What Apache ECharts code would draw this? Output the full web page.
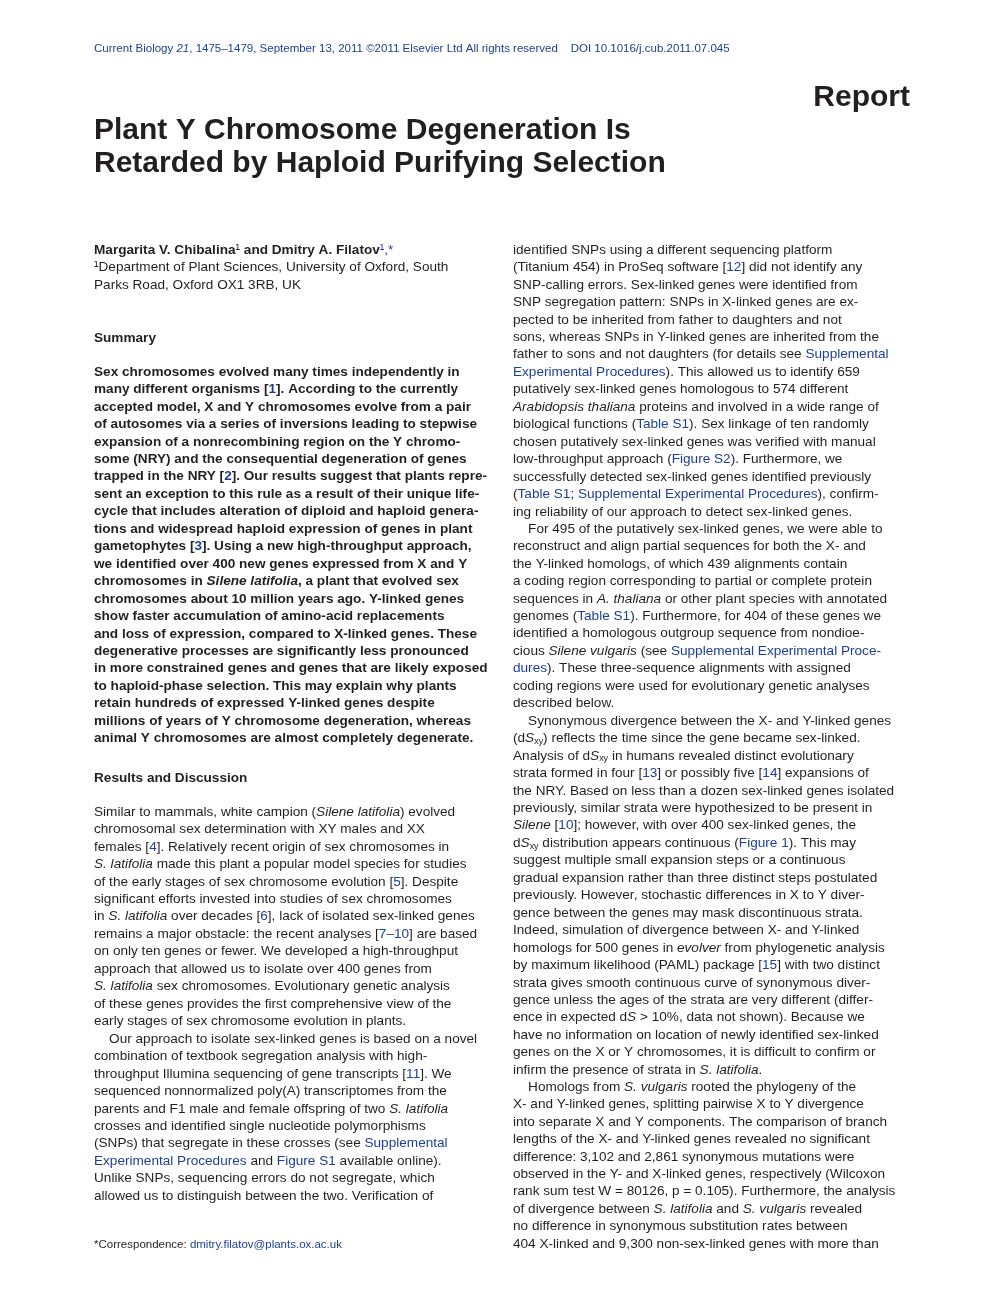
<!DOCTYPE html>
<html><head><meta charset="utf-8">
<script src="https://cdn.jsdelivr.net/npm/echarts@6/dist/echarts.min.js"></script>
<style>html,body{margin:0;padding:0;background:#fff}#c{width:1005px;height:1305px}</style>
</head><body><div id="c"></div>
<script>
const headerLine = '{l|Current Biology }{li|21}{l|, 1475–1479, September 13, 2011 ©2011 Elsevier Ltd All rights reserved    DOI 10.1016/j.cub.2011.07.045}';
const titleLines = ['Plant Y Chromosome Degeneration Is', 'Retarded by Haploid Purifying Selection'];
const authorLines = ['{b|Margarita V. Chibalina}¹ {b|and Dmitry A. Filatov}{l|¹,*}', '¹Department of Plant Sciences, University of Oxford, South', 'Parks Road, Oxford OX1 3RB, UK'];
const summaryLines = [
'Sex chromosomes evolved many times independently in',
'many different organisms [{l|1}]. According to the currently',
'accepted model, X and Y chromosomes evolve from a pair',
'of autosomes via a series of inversions leading to stepwise',
'expansion of a nonrecombining region on the Y chromo-',
'some (NRY) and the consequential degeneration of genes',
'trapped in the NRY [{l|2}]. Our results suggest that plants repre-',
'sent an exception to this rule as a result of their unique life-',
'cycle that includes alteration of diploid and haploid genera-',
'tions and widespread haploid expression of genes in plant',
'gametophytes [{l|3}]. Using a new high-throughput approach,',
'we identified over 400 new genes expressed from X and Y',
'chromosomes in {i|Silene latifolia}, a plant that evolved sex',
'chromosomes about 10 million years ago. Y-linked genes',
'show faster accumulation of amino-acid replacements',
'and loss of expression, compared to X-linked genes. These',
'degenerative processes are significantly less pronounced',
'in more constrained genes and genes that are likely exposed',
'to haploid-phase selection. This may explain why plants',
'retain hundreds of expressed Y-linked genes despite',
'millions of years of Y chromosome degeneration, whereas',
'animal Y chromosomes are almost completely degenerate.'];
const leftPara1 = [
'Similar to mammals, white campion ({i|Silene latifolia}) evolved',
'chromosomal sex determination with XY males and XX',
'females [{l|4}]. Relatively recent origin of sex chromosomes in',
'{i|S. latifolia} made this plant a popular model species for studies',
'of the early stages of sex chromosome evolution [{l|5}]. Despite',
'significant efforts invested into studies of sex chromosomes',
'in {i|S. latifolia} over decades [{l|6}], lack of isolated sex-linked genes',
'remains a major obstacle: the recent analyses [{l|7–10}] are based',
'on only ten genes or fewer. We developed a high-throughput',
'approach that allowed us to isolate over 400 genes from',
'{i|S. latifolia} sex chromosomes. Evolutionary genetic analysis',
'of these genes provides the first comprehensive view of the',
'early stages of sex chromosome evolution in plants.'];
const leftPara2 = [
'    Our approach to isolate sex-linked genes is based on a novel',
'combination of textbook segregation analysis with high-',
'throughput Illumina sequencing of gene transcripts [{l|11}]. We',
'sequenced nonnormalized poly(A) transcriptomes from the',
'parents and F1 male and female offspring of two {i|S. latifolia}',
'crosses and identified single nucleotide polymorphisms',
'(SNPs) that segregate in these crosses (see {l|Supplemental}',
'{l|Experimental Procedures} and {l|Figure S1} available online).',
'Unlike SNPs, sequencing errors do not segregate, which',
'allowed us to distinguish between the two. Verification of'];
const rightPara1 = [
'identified SNPs using a different sequencing platform',
'(Titanium 454) in ProSeq software [{l|12}] did not identify any',
'SNP-calling errors. Sex-linked genes were identified from',
'SNP segregation pattern: SNPs in X-linked genes are ex-',
'pected to be inherited from father to daughters and not',
'sons, whereas SNPs in Y-linked genes are inherited from the',
'father to sons and not daughters (for details see {l|Supplemental}',
'{l|Experimental Procedures}). This allowed us to identify 659',
'putatively sex-linked genes homologous to 574 different',
'{i|Arabidopsis thaliana} proteins and involved in a wide range of',
'biological functions ({l|Table S1}). Sex linkage of ten randomly',
'chosen putatively sex-linked genes was verified with manual',
'low-throughput approach ({l|Figure S2}). Furthermore, we',
'successfully detected sex-linked genes identified previously',
'({l|Table S1}; {l|Supplemental Experimental Procedures}), confirm-',
'ing reliability of our approach to detect sex-linked genes.'];
const rightPara2 = [
'    For 495 of the putatively sex-linked genes, we were able to',
'reconstruct and align partial sequences for both the X- and',
'the Y-linked homologs, of which 439 alignments contain',
'a coding region corresponding to partial or complete protein',
'sequences in {i|A. thaliana} or other plant species with annotated',
'genomes ({l|Table S1}). Furthermore, for 404 of these genes we',
'identified a homologous outgroup sequence from nondioe-',
'cious {i|Silene vulgaris} (see {l|Supplemental Experimental Proce-}',
'{l|dures}). These three-sequence alignments with assigned',
'coding regions were used for evolutionary genetic analyses',
'described below.'];
const rightPara3 = [
'    Synonymous divergence between the X- and Y-linked genes',
'(d{i|S}{sub|xy}) reflects the time since the gene became sex-linked.',
'Analysis of d{i|S}{sub|xy} in humans revealed distinct evolutionary',
'strata formed in four [{l|13}] or possibly five [{l|14}] expansions of',
'the NRY. Based on less than a dozen sex-linked genes isolated',
'previously, similar strata were hypothesized to be present in',
'{i|Silene} [{l|10}]; however, with over 400 sex-linked genes, the',
'd{i|S}{sub|xy} distribution appears continuous ({l|Figure 1}). This may',
'suggest multiple small expansion steps or a continuous',
'gradual expansion rather than three distinct steps postulated',
'previously. However, stochastic differences in X to Y diver-',
'gence between the genes may mask discontinuous strata.',
'Indeed, simulation of divergence between X- and Y-linked',
'homologs for 500 genes in {i|evolver} from phylogenetic analysis',
'by maximum likelihood (PAML) package [{l|15}] with two distinct',
'strata gives smooth continuous curve of synonymous diver-',
'gence unless the ages of the strata are very different (differ-',
'ence in expected d{i|S} > 10%, data not shown). Because we',
'have no information on location of newly identified sex-linked',
'genes on the X or Y chromosomes, it is difficult to confirm or',
'infirm the presence of strata in {i|S. latifolia}.'];
const rightPara4 = [
'    Homologs from {i|S. vulgaris} rooted the phylogeny of the',
'X- and Y-linked genes, splitting pairwise X to Y divergence',
'into separate X and Y components. The comparison of branch',
'lengths of the X- and Y-linked genes revealed no significant',
'difference: 3,102 and 2,861 synonymous mutations were',
'observed in the Y- and X-linked genes, respectively (Wilcoxon',
'rank sum test W = 80126, p = 0.105). Furthermore, the analysis',
'of divergence between {i|S. latifolia} and {i|S. vulgaris} revealed',
'no difference in synonymous substitution rates between',
'404 X-linked and 9,300 non-sex-linked genes with more than'];
const footnote = '*Correspondence: {l|dmitry.filatov@plants.ox.ac.uk}';

const FONT = '"Liberation Sans", Arial, sans-serif';
const BLUE = '#1f3f95';
const INK = '#231f20';
const LH = 17.45;
function rich(weight, size) {
  return {
    i: {fontStyle: 'italic', fontWeight: weight, fontSize: size, fontFamily: FONT, fill: INK},
    l: {fill: BLUE, fontWeight: weight, fontSize: size, fontFamily: FONT},
    li: {fill: BLUE, fontStyle: 'italic', fontWeight: weight, fontSize: size, fontFamily: FONT},
    b: {fontWeight: 'bold', fontSize: size, fontFamily: FONT, fill: INK},
    sub: {fontSize: size * 0.66, fontWeight: weight, verticalAlign: 'bottom', padding: [6, 0, 0, 0], fontFamily: FONT, fill: INK}
  };
}
const els = [];
function txt(x, y, text, opt) {
  opt = opt || {};
  const size = opt.size || 13.6, weight = opt.weight || 'normal';
  els.push({type: 'text', x: x, y: y + 1, style: {
    text: text, fontFamily: FONT, fontSize: size, fontWeight: weight,
    fill: opt.fill || INK, align: opt.align || 'left', verticalAlign: 'middle',
    rich: rich(weight, size)
  }});
}
function block(x, y0, lines, opt) {
  lines.forEach((l, i) => txt(x, y0 + i * LH, l, opt));
}
const L = 94, R = 513;
txt(L, 48, headerLine, {size: 11.5, fill: BLUE});
txt(910, 97, 'Report', {size: 30, weight: 'bold', align: 'right'});
txt(L, 130, titleLines[0], {size: 30, weight: 'bold'});
txt(L, 163, titleLines[1], {size: 30, weight: 'bold'});
block(L, 249, authorLines);
txt(L, 337, 'Summary', {weight: 'bold'});
block(L, 371, summaryLines, {weight: 'bold'});
txt(L, 777, 'Results and Discussion', {weight: 'bold'});
block(L, 811, leftPara1);
block(L, 1038, leftPara2);
txt(L, 1244, footnote, {size: 11.5});
block(R, 249, rightPara1);
block(R, 528, rightPara2);
block(R, 720, rightPara3);
block(R, 1086, rightPara4);

const chart = echarts.init(document.getElementById('c'), null, {renderer: 'canvas'});
chart.setOption({animation: false, graphic: {elements: els}});
</script></body></html>
